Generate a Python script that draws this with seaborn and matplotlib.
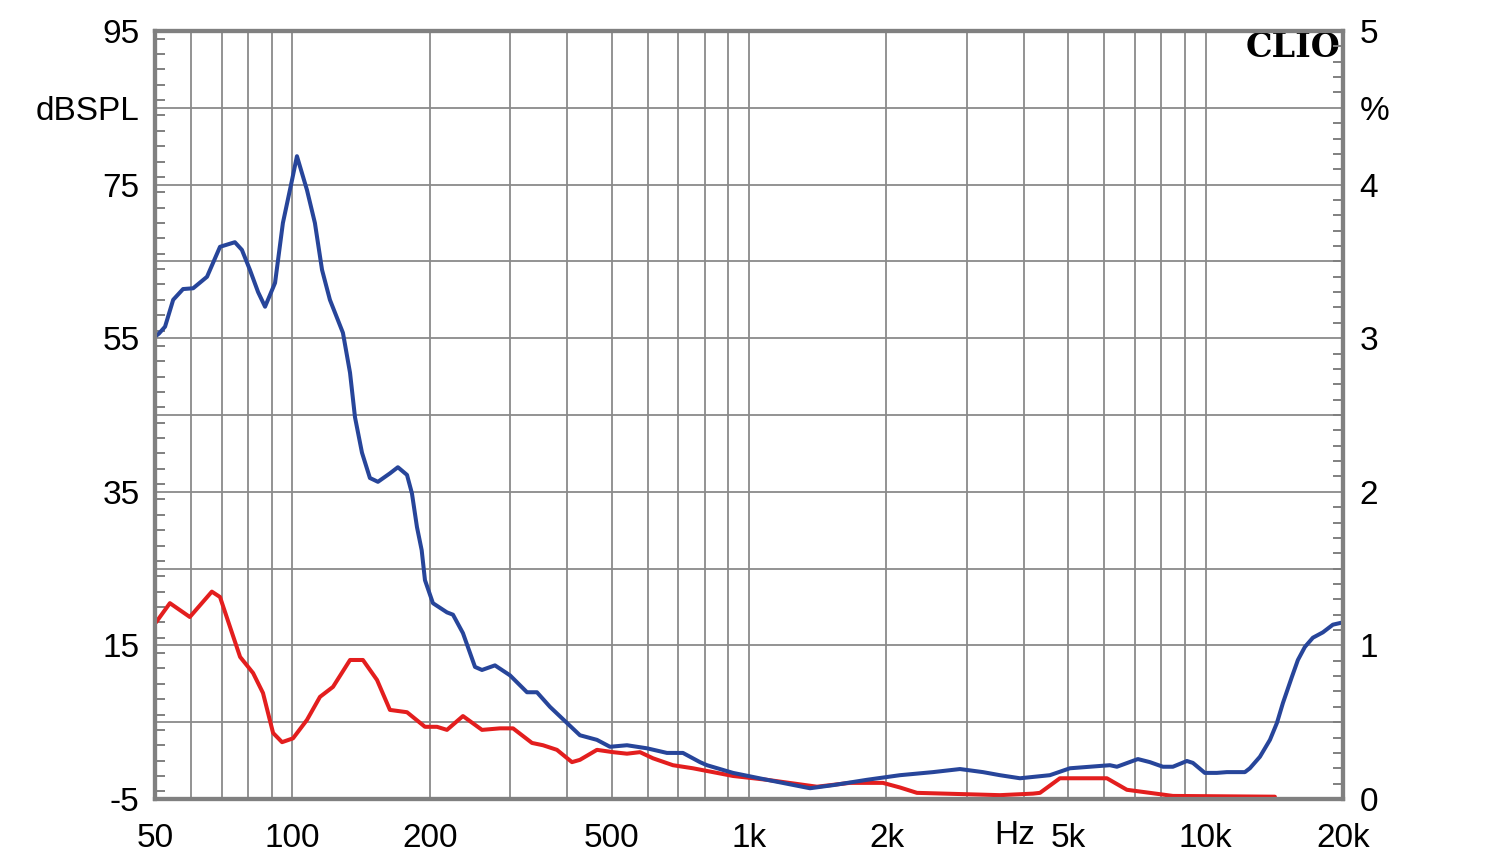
import numpy as np
import pandas as pd
import matplotlib
matplotlib.use("Agg")
import matplotlib.pyplot as plt
from matplotlib.ticker import FixedLocator, FixedFormatter, MultipleLocator
import seaborn as sns

# ---------------- data ----------------
spl_freq = [50, 51, 52.6, 54.8, 57.6, 60.6, 65.0, 69.4, 74.8, 77.5, 80.7, 84.1, 87.1,
            91.6, 95.3, 99.8, 102.3, 107.6, 112.0, 116.1, 120.8, 129.0, 133.7, 137.1,
            142.0, 147.8, 153.9, 163.5, 170.2, 178.2, 182.7, 187.4, 191.9, 195.1, 203.1,
            218.0, 224.7, 236.3, 251.1, 260.1, 277.7, 299.6, 326.4, 343.2, 366.5, 399.3,
            426.3, 464.5, 496.0, 540.4, 597.9, 661.1, 716.6, 780.9, 809.1, 922.4, 1094.7,
            1360, 1527, 1813, 2141, 2529, 2898, 3254, 3545, 3922, 4561, 5045, 6173, 6395,
            7108, 7552, 8064, 8481, 9102, 9381, 9964, 10586, 11130, 12193, 12504, 13154,
            13836, 14332, 14772, 15456, 15931, 16502, 17181, 18070, 19006, 20000]
spl_level = [55.2, 55.6, 56.5, 60.0, 61.4, 61.5, 63.0, 66.9, 67.5, 66.5, 63.9, 61.0, 59.1,
             62.2, 70.0, 75.6, 78.7, 74.3, 70.0, 63.9, 60.0, 55.7, 50.5, 44.7,
             40.1, 36.8, 36.3, 37.4, 38.2, 37.2, 34.8, 30.4, 27.4, 23.5, 20.5,
             19.3, 19.0, 16.6, 12.2, 11.8, 12.4, 11.1, 8.9, 8.9, 7.0, 4.9,
             3.3, 2.7, 1.8, 2.0, 1.6, 1.0, 1.0, -0.2, -0.6, -1.6, -2.5,
             -3.6, -3.2, -2.5, -1.9, -1.5, -1.1, -1.5, -1.9, -2.3, -1.9, -1.0, -0.6, -0.8,
             0.2, -0.2, -0.8, -0.8, -0.05, -0.3, -1.6, -1.6, -1.5, -1.5, -1.0, 0.5,
             2.7, 4.9, 7.5, 10.9, 13.1, 14.8, 16.0, 16.7, 17.7, 18.0]

thd_freq = [50.25, 53.9, 59.6, 66.6, 69.4, 73.0, 76.8, 82.0, 86.2, 90.7, 94.9, 100.3,
            107.6, 114.9, 122.7, 133.7, 142.7, 153.2, 163.5, 178.2, 195.1, 207.3, 218.0,
            236.3, 260.1, 284.8, 304.2, 334.7, 353.8, 379.6, 409.5, 426.3, 464.5, 503.6,
            540.4, 577.0, 616.2, 681.4, 753.8, 922.4, 1094.7, 1408.8, 1663.8, 1965, 2141,
            2333, 3545, 4187, 4338, 4798, 6079, 6725, 7552, 8481, 14186]
thd_level = [18.0, 20.5, 18.7, 22.0, 21.3, 17.4, 13.5, 11.4, 8.8, 3.6, 2.4, 2.9,
             5.3, 8.3, 9.6, 13.1, 13.1, 10.5, 6.6, 6.3, 4.4, 4.4, 4.0,
             5.8, 4.0, 4.2, 4.2, 2.3, 2.0, 1.4, -0.2, 0.1, 1.4, 1.1,
             0.9, 1.1, 0.3, -0.6, -1.0, -2.0, -2.5, -3.4, -2.9, -2.9, -3.5,
             -4.2, -4.5, -4.3, -4.2, -2.3, -2.3, -3.8, -4.2, -4.6, -4.7]

x_major = [50, 100, 200, 500, 1000, 2000, 5000, 10000, 20000]
x_major_labels = ["50", "100", "200", "500", "1k", "2k", "5k", "10k", "20k"]
x_minor = [60, 70, 80, 90, 300, 400, 600, 700, 800, 900,
           3000, 4000, 6000, 7000, 8000, 9000]
y_ticks = [95, 85, 75, 65, 55, 45, 35, 25, 15, 5, -5]
y_labels = ["95", "dBSPL", "75", "", "55", "", "35", "", "15", "", "-5"]
r_ticks = [5, 4.5, 4, 3, 2, 1, 0]
r_labels = ["5", "%", "4", "3", "2", "1", "0"]

# ---------------- style ----------------
sns.set_style("white")
plt.rcParams["font.family"] = ["Liberation Sans", "DejaVu Sans"]
plt.rcParams["text.color"] = "black"
plt.rcParams["xtick.color"] = "black"
plt.rcParams["ytick.color"] = "black"

GRID = "#8a8a8a"
SPINE = "#808080"
BLUE = "#27459a"
RED = "#e31e1e"
FS = 24

fig = plt.figure(figsize=(15, 8.64), dpi=100)
ax = fig.add_axes([155 / 1500, 1 - 799 / 864, (1343 - 155) / 1500, (799 - 31) / 864])

df_spl = pd.DataFrame({"freq": spl_freq, "level": spl_level})
df_thd = pd.DataFrame({"freq": thd_freq, "level": thd_level})
sns.lineplot(data=df_thd, x="freq", y="level", ax=ax, color=RED, linewidth=2.9,
             sort=False, zorder=3, solid_joinstyle="round", solid_capstyle="round")
sns.lineplot(data=df_spl, x="freq", y="level", ax=ax, color=BLUE, linewidth=2.9,
             sort=False, zorder=4, solid_joinstyle="round", solid_capstyle="round")

ax.set_xscale("log")
ax.set_xlim(50, 20000)
ax.set_ylim(-5, 95)
ax.set_xlabel("")
ax.set_ylabel("")

ax.xaxis.set_major_locator(FixedLocator(x_major))
ax.xaxis.set_major_formatter(FixedFormatter(x_major_labels))
ax.xaxis.set_minor_locator(FixedLocator(x_minor))
ax.xaxis.set_minor_formatter(FixedFormatter([""] * len(x_minor)))
ax.tick_params(axis="x", which="both", length=0, pad=17, labelsize=FS,
               labelcolor="black")

ax.yaxis.set_major_locator(FixedLocator(y_ticks))
ax.yaxis.set_major_formatter(FixedFormatter(y_labels))
ax.yaxis.set_minor_locator(MultipleLocator(2))
ax.tick_params(axis="y", which="major", length=0, pad=11, labelsize=FS,
               labelcolor="black")
ax.tick_params(axis="y", which="minor", direction="in", length=7, width=1.4,
               color=SPINE, left=True, right=False)

ax.grid(True, which="both", axis="x", color=GRID, linewidth=1.3)
ax.grid(True, which="major", axis="y", color=GRID, linewidth=1.3)
ax.set_axisbelow(True)

for s in ax.spines.values():
    s.set_color(SPINE)
    s.set_linewidth(3)
    s.set_visible(True)

ax2 = ax.twinx()
ax2.set_ylim(0, 5)
ax2.yaxis.set_major_locator(FixedLocator(r_ticks))
ax2.yaxis.set_major_formatter(FixedFormatter(r_labels))
ax2.yaxis.set_minor_locator(MultipleLocator(0.1))
ax2.tick_params(axis="y", which="major", length=0, pad=12, labelsize=FS,
                labelcolor="black")
ax2.tick_params(axis="y", which="minor", direction="in", length=7, width=1.4,
                color=SPINE)
ax2.grid(False)
for s in ax2.spines.values():
    s.set_color(SPINE)
    s.set_linewidth(3)

ax.text(0.9975, 0.978, "CLIO", transform=ax.transAxes, ha="right", va="center",
        fontsize=24, fontweight="bold", family=["DejaVu Serif"], color="black",
        zorder=6)

fig.text(1015 / 1500, 1 - 836 / 864, "Hz", ha="center", va="center", fontsize=FS,
         color="black")

fig.savefig("out.png", dpi=100, facecolor="white")
